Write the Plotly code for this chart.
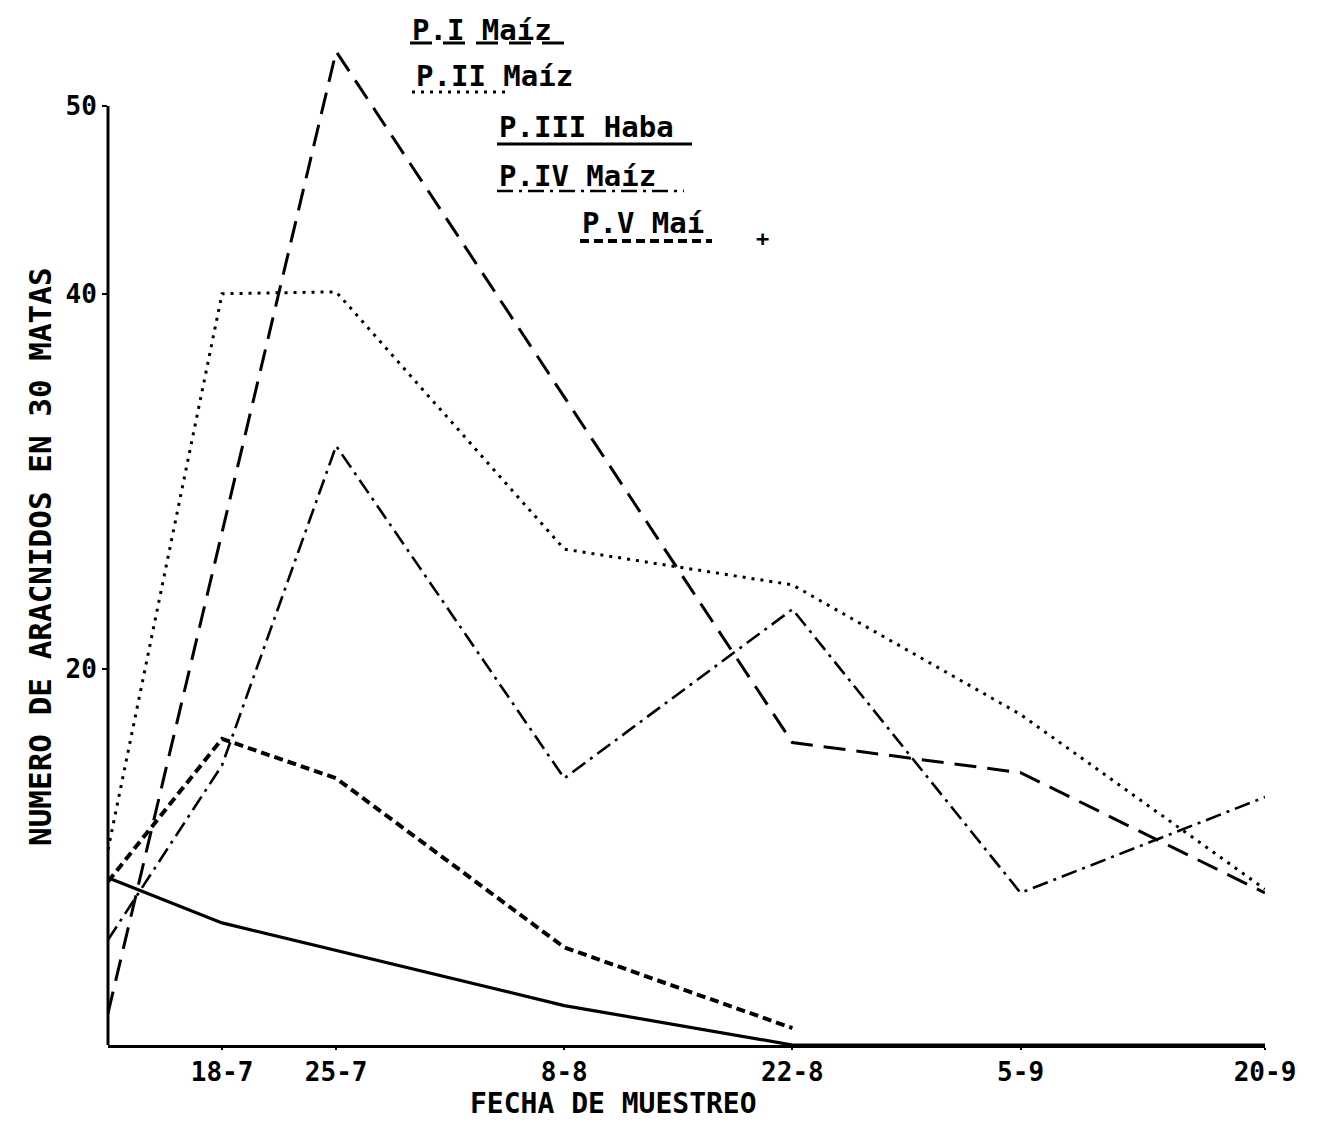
import plotly.graph_objects as go

# ---- data (days counted from first sampling) ----
tick_days = [7, 14, 28, 42, 56, 71]
tick_labels = ["18-7", "25-7", "8-8", "22-8", "5-9", "20-9"]

p1_days = [0, 14, 42, 56, 71]
p1_maiz = [1.7, 52.9, 16.1, 14.5, 8.1]

p2_days = [0, 7, 14, 28, 42, 56, 71]
p2_maiz = [10.4, 40.0, 40.1, 26.4, 24.5, 17.6, 8.3]

p3_days = [0, 7, 28, 42, 56, 71]
p3_haba = [8.9, 6.5, 2.1, 0.0, 0.0, 0.0]

p4_days = [0, 7, 14, 28, 42, 56, 71]
p4_maiz = [5.6, 14.9, 31.9, 14.2, 23.2, 8.1, 13.2]

p5_days = [0, 7, 14, 28, 42]
p5_maiz = [8.7, 16.3, 14.2, 5.2, 0.9]

series_names = ["P.I Maíz", "P.II Maíz", "P.III Haba", "P.IV Maíz", "P.V Maí"]

# ---- styles ----
FONT = "DejaVu Sans Mono"
styles = [
    dict(dash="22px,11px", width=3),
    dict(dash="3px,6px", width=3),
    dict(dash="solid", width=3.2),
    dict(dash="16px,6px,3px,6px", width=2.6),
    dict(dash="9px,5px", width=4),
]

fig = go.Figure()
for name, xs, ys, st in zip(
    series_names,
    [p1_days, p2_days, p3_days, p4_days, p5_days],
    [p1_maiz, p2_maiz, p3_haba, p4_maiz, p5_maiz],
    styles,
):
    fig.add_trace(go.Scatter(
        x=xs, y=ys, mode="lines", name=name,
        line=dict(color="black", width=st["width"], dash=st["dash"]),
        showlegend=False,
    ))

# plot-area geometry (pixels) used to place the hand-drawn legend
L, R, T, B = 108, 1265, 12, 1045
W, H = 1324, 1122


def px(x):
    return (x - L) / (R - L)


def py(y):
    return (B - y) / (B - T)


legend_items = [
    # text, left x, text centre y, underline y, underline x0, x1
    ("P.I Maíz", 410, 30, 43, 410, 572),
    ("P.II Maíz", 414, 76, 92, 412, 505),
    ("P.III Haba", 497, 127, 144, 497, 692),
    ("P.IV Maíz", 497, 176, 191, 497, 684),
    ("P.V Maí", 580, 223, 241, 580, 712),
]

annotations = []
shapes = []
for (txt, lx, ty, uy, ux0, ux1), st in zip(legend_items, styles):
    annotations.append(dict(
        x=px(lx), y=py(ty), xref="paper", yref="paper", text=txt,
        showarrow=False, xanchor="left", yanchor="middle",
        font=dict(family=FONT, size=29, color="black", weight="bold"),
    ))
    shapes.append(dict(
        type="line", xref="paper", yref="paper",
        x0=px(ux0), x1=px(ux1), y0=py(uy), y1=py(uy),
        line=dict(color="black", width=st["width"], dash=st["dash"]),
    ))
annotations.append(dict(
    x=px(762), y=py(238), xref="paper", yref="paper", text="+",
    showarrow=False, xanchor="center", yanchor="middle",
    font=dict(family=FONT, size=22, color="black", weight="bold"),
))

# axis titles
annotations.append(dict(
    x=px(613), y=py(1103), xref="paper", yref="paper",
    text="FECHA DE MUESTREO", showarrow=False,
    xanchor="center", yanchor="middle",
    font=dict(family=FONT, size=28, color="black", weight="bold"),
))
annotations.append(dict(
    x=px(40), y=py(557), xref="paper", yref="paper",
    text="NUMERO DE ARACNIDOS EN 30 MATAS", showarrow=False,
    textangle=-90, xanchor="center", yanchor="middle",
    font=dict(family=FONT, size=31, color="black", weight="bold"),
))

# y-axis line drawn only up to 50 as in the original
shapes.append(dict(
    type="line", xref="paper", yref="y", x0=0, x1=0, y0=0, y1=50,
    line=dict(color="black", width=3),
))

fig.update_layout(
    width=W, height=H,
    margin=dict(l=L, r=W - R, t=T, b=H - B),
    paper_bgcolor="white", plot_bgcolor="white",
    annotations=annotations, shapes=shapes,
    showlegend=False,
    xaxis=dict(
        range=[0, 71], showgrid=False, zeroline=False,
        showline=True, linecolor="black", linewidth=3,
        tickmode="array", tickvals=tick_days, ticktext=tick_labels,
        ticks="outside", ticklen=2, tickwidth=2, tickcolor="black",
        tickfont=dict(family=FONT, size=26, color="black", weight="bold"),
    ),
    yaxis=dict(
        range=[0, 55], showgrid=False, zeroline=False, showline=False,
        tickmode="array", tickvals=[20, 40, 50], ticktext=["20", "40", "50"],
        ticks="outside", ticklen=5, tickwidth=2, tickcolor="black",
        tickfont=dict(family=FONT, size=26, color="black", weight="bold"),
    ),
)

fig.write_html("out.html")
